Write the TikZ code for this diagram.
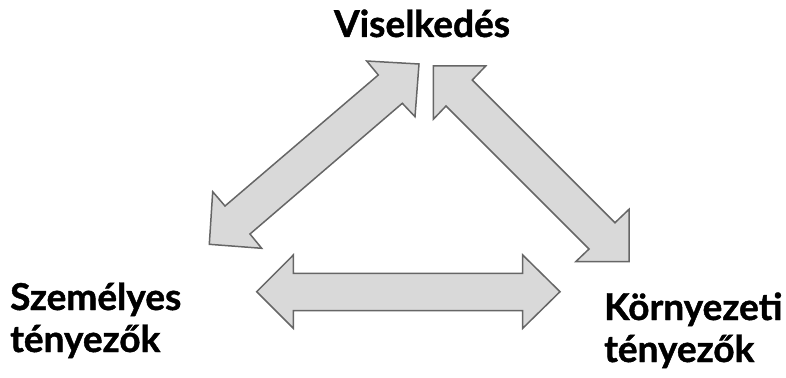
\documentclass[tikz,border=0pt]{standalone}
\usepackage{fontspec}
\setmainfont{Lato}[BoldFeatures={FakeBold=1.2}]
\begin{document}
\begin{tikzpicture}[x=1pt,y=-1pt,
  bigarrow/.style={fill=arrowfill,draw=arrowline,line width=1.5pt,line join=miter},
  label/.style={font=\fontsize{37}{35}\selectfont\bfseries,inner sep=0pt,align=left}]
\definecolor{arrowfill}{HTML}{D9D9D9}
\definecolor{arrowline}{HTML}{666666}
\useasboundingbox (0,0) rectangle (786,377);

% Viselkedés <-> Személyes tényezők
\draw[bigarrow] (419,64) -- (366.7,61) -- (378.3,75) -- (225,206) -- (212.7,191.7)
  -- (209.3,244.3) -- (261.7,248.3) -- (250,234) -- (402.3,103.3) -- (415,116.7) -- cycle;

% Viselkedés <-> Környezeti tényezők
\draw[bigarrow] (433.3,66) -- (485.7,66) -- (472.3,80) -- (615,222.7) -- (629,209.3)
  -- (629,261.7) -- (575.7,261.7) -- (589,249) -- (446,106) -- (433.3,119.3) -- cycle;

% Személyes tényezők <-> Környezeti tényezők
\draw[bigarrow] (256.7,291.7) -- (293.3,255) -- (293.3,273.3) -- (522.7,273.3) -- (522.7,255)
  -- (560,291.7) -- (522.7,328.3) -- (522.7,310.7) -- (293.3,310.7) -- (293.3,328.3) -- cycle;

% labels: the base anchor of a two-line node sits on its last line
\node[label,anchor=base] (top) at (422,37) {Viselkedés};
\node[label,anchor=base west] (left) at (10,352) {Személyes\\[7pt]tényezők};
\node[label,anchor=base west] (right) at (604,362) {Környezeti\\[7pt]tényezők};
\end{tikzpicture}
\end{document}
